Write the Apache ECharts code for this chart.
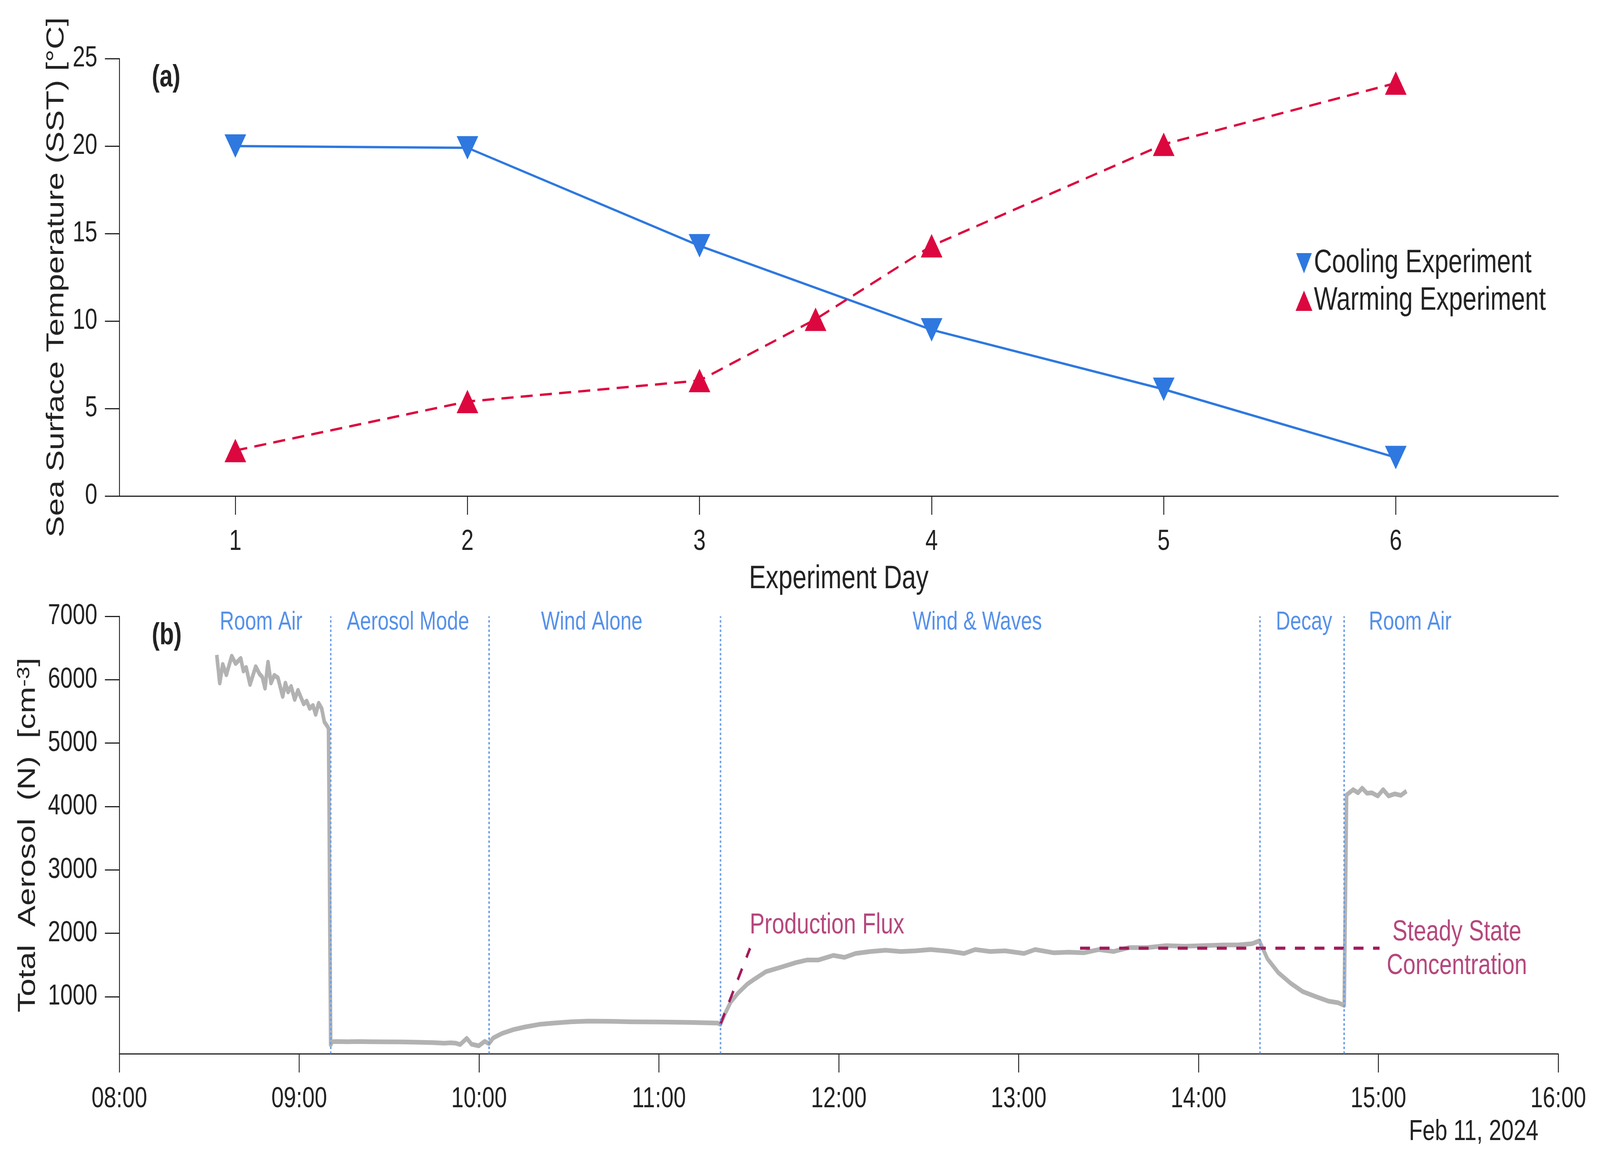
<!DOCTYPE html>
<html>
<head>
<meta charset="utf-8">
<title>SST and total aerosol</title>
<script src="https://cdn.jsdelivr.net/npm/echarts@6/dist/echarts.min.js"></script>
<style>
  html, body { margin: 0; padding: 0; background: #fff; overflow: hidden; }
  #main { width: 5324px; height: 2988px; transform-origin: 0 0; }
</style>
</head>
<body>
<div id="main"></div>
<script>
// (a) sea surface temperature per experiment day
var coolingDays = [1, 2, 3, 4, 5, 6];
var coolingSST = [20.0, 19.9, 14.3, 9.5, 6.1, 2.2];
var warmingDays = [1, 2, 3, 3.5, 4, 5, 6];
var warmingSST = [2.6, 5.4, 6.6, 10.1, 14.3, 20.1, 23.6];
var dayTicks = [1, 2, 3, 4, 5, 6];

// (b) total aerosol, time in minutes after 08:00
var aerosolMinutes = [
  32.5, 33.5, 34.5, 35.7, 37.5, 38.8, 40.5, 41.4, 42.3, 43.6, 45.5, 46.8, 47.7, 48.6, 49.6,
  50.6, 51.7, 52.9, 54.5, 55.4, 56.3, 57.3, 58.5, 59.6, 61.5, 62.5, 63.5, 64.6, 65.5, 66.5,
  67.5, 68.4, 69.4, 69.8, 70.5, 71.0, 72.5, 76, 80, 83.5, 88, 94, 99, 104.6, 108.4, 110.5,
  112.3, 113.7, 115.9, 117.5, 119.9, 121.9, 123.3, 124.7, 127.6, 131.5, 135.3, 140.1, 144.9,
  150.6, 156.4, 164.1, 170.8, 180.4, 190.0, 199.6, 200.5, 202.0, 203.9, 206.4, 209.5, 212.0,
  215.7, 220.8, 225.7, 229.5, 233.2, 238.2, 241.9, 245.6, 250.6, 255.6, 260.7, 265.6, 270.6,
  276.8, 281.8, 285.5, 290.5, 295.5, 301.8, 305.5, 311.8, 316.7, 321.7, 326.7, 331.7, 336.7,
  342.9, 349.2, 355.4, 361.6, 367.8, 372.8, 377.9, 380.3, 383.0, 386.6, 390.7, 394.8, 399.4,
  403.4, 406.5, 408.6, 409.4, 411.6, 413.2, 414.6, 416.2, 417.8, 419.8, 421.6, 423.4, 425.5,
  427.5, 429.4
];
var aerosolValues = [
  6391, 5947, 6242, 6077, 6372, 6254, 6336, 6136, 6195, 5924, 6207, 6089, 6042, 5865, 6277,
  5947, 6070, 6030, 5735, 5947, 5806, 5895, 5688, 5834, 5617, 5664, 5546, 5594, 5452, 5629,
  5546, 5334, 5264, 5230, 240, 290, 292, 290, 293, 290, 288, 286, 282, 276, 266, 272,
  266, 245, 342, 250, 225, 296, 259, 348, 419, 481, 522, 563, 584,
  604, 615, 612, 604, 600, 594, 584, 563, 727, 912, 1056, 1199, 1281,
  1394, 1466, 1538, 1579, 1579, 1651, 1620, 1682, 1713, 1733, 1713, 1723, 1743,
  1717, 1682, 1743, 1713, 1723, 1682, 1743, 1692, 1702, 1692, 1743, 1713, 1774,
  1774, 1805, 1795, 1805, 1815, 1815, 1836, 1880, 1597, 1380, 1213, 1079, 996,
  929, 906, 862, 4183, 4266, 4216, 4290, 4209, 4216, 4166, 4266, 4166, 4199,
  4176, 4243
];
var timeTicks = [0, 60, 120, 180, 240, 300, 360, 420, 480];
var timeTickLabels = ['08:00', '09:00', '10:00', '11:00', '12:00', '13:00', '14:00', '15:00', '16:00'];
var aerosolTicks = [1000, 2000, 3000, 4000, 5000, 6000, 7000];

// phase boundaries and phase names (minutes after 08:00)
var phaseBounds = [70.5, 123.3, 200.5, 380.5, 408.5];
var phaseNames = ['Room Air', 'Aerosol Mode', 'Wind Alone', 'Wind & Waves', 'Decay', 'Room Air'];
var phaseLabelAt = [47.3, 96.3, 157.6, 286.2, 395.2, 430.6];

// annotation lines
var fluxMinutes = [200.5, 210.4];
var fluxValues = [563, 1764];
var steadyMinutes = [320.5, 420.4];
var steadyValues = [1765, 1765];

var FONT = '"Liberation Sans", Arial, Helvetica, sans-serif';
var INK = '#222222';
var BLUE = '#2e78e0';
var RED = '#dc073e';
var MAGENTA = '#a3195b';
var PHASE_BLUE = '#2a74e2';

// the figure is laid out at 5324x2988; fit it into whatever window we get
var box = document.getElementById('main');
box.style.transform = 'scale(' + (window.innerWidth / 5324) + ',' + (window.innerHeight / 2988) + ')';

function zip(xs, ys) {
  return xs.map(function (x, i) { return [x, ys[i]]; });
}

function plain(v) { return String(v); }

function baseAxis(extra) {
  var ax = {
    type: 'value',
    axisLine: { show: true, onZero: false, lineStyle: { color: INK, width: 3 } },
    axisTick: { show: true, length: 48, lineStyle: { color: INK, width: 3 } },
    axisLabel: { fontSize: 74, color: INK, fontFamily: FONT },
    splitLine: { show: false },
    nameLocation: 'middle',
    nameTextStyle: { fontSize: 82, color: INK, fontFamily: FONT }
  };
  for (var k in extra) ax[k] = extra[k];
  return ax;
}

var chart = echarts.init(box, null, { renderer: 'canvas', width: 5324, height: 2988 });

var option = {
  backgroundColor: '#ffffff',
  animation: false,
  textStyle: { fontFamily: FONT },
  grid: [
    { left: 397, top: 150, width: 4788, height: 1120 },
    { left: 397, top: 1578, width: 4788, height: 1120 }
  ],
  legend: {
    orient: 'vertical',
    left: 4306,
    top: 624,
    itemWidth: 56,
    itemHeight: 52,
    itemGap: 6,
    textStyle: { fontSize: 83, color: INK, fontFamily: FONT, lineHeight: 90 },
    data: [
      { name: 'Cooling Experiment', icon: 'path://M0,0L10,0L5,10Z', itemStyle: { color: BLUE } },
      { name: 'Warming Experiment', icon: 'triangle', itemStyle: { color: RED } }
    ]
  },
  xAxis: [
    baseAxis({
      gridIndex: 0, min: 0.5, max: 6.7,
      axisLabel: { fontSize: 74, color: INK, fontFamily: FONT, margin: 81, customValues: dayTicks, formatter: plain },
      axisTick: { show: true, length: 48, lineStyle: { color: INK, width: 3 }, customValues: dayTicks },
      name: 'Experiment Day', nameGap: 171,
      nameTextStyle: { fontSize: 84, color: INK, fontFamily: FONT }
    }),
    baseAxis({
      gridIndex: 1, min: 0, max: 480, interval: 60,
      axisLabel: {
        fontSize: 74, color: INK, fontFamily: FONT, margin: 80,
        formatter: function (v) { return timeTickLabels[timeTicks.indexOf(v)] || ''; }
      }
    })
  ],
  yAxis: [
    baseAxis({
      gridIndex: 0, min: 0, max: 25, interval: 5,
      axisLabel: { fontSize: 74, color: INK, fontFamily: FONT, margin: 73, formatter: plain },
      name: 'Sea Surface Temperature (SST) [°C]', nameGap: 168
    }),
    baseAxis({
      gridIndex: 1, min: 100, max: 7000,
      axisLabel: { fontSize: 74, color: INK, fontFamily: FONT, margin: 73, customValues: aerosolTicks, formatter: plain },
      axisTick: { show: true, length: 48, lineStyle: { color: INK, width: 3 }, customValues: aerosolTicks },
      name: 'Total  Aerosol  (N)  [cm{sup|-3}]', nameGap: 263,
      nameTextStyle: {
        fontSize: 82, color: INK, fontFamily: FONT,
        rich: { sup: { fontSize: 58, lineHeight: 34, verticalAlign: 'top', color: INK, fontFamily: FONT } }
      }
    })
  ],
  series: [
    {
      name: 'Cooling Experiment',
      type: 'line',
      xAxisIndex: 0, yAxisIndex: 0,
      data: zip(coolingDays, coolingSST),
      symbol: 'path://M0,0L10,0L5,10Z',
      symbolSize: [72, 60],
      itemStyle: { color: BLUE },
      lineStyle: { color: BLUE, width: 6 },
      z: 3
    },
    {
      name: 'Warming Experiment',
      type: 'line',
      xAxisIndex: 0, yAxisIndex: 0,
      data: zip(warmingDays, warmingSST),
      symbol: 'triangle',
      symbolSize: [72, 60],
      itemStyle: { color: RED },
      lineStyle: { color: RED, width: 6, type: [40, 24] },
      z: 3
    },
    {
      name: 'Total Aerosol',
      type: 'line',
      xAxisIndex: 1, yAxisIndex: 1,
      data: zip(aerosolMinutes, aerosolValues),
      showSymbol: false,
      lineStyle: { color: '#b2b2b2', width: 12, join: 'round' },
      markLine: {
        silent: true,
        symbol: 'none',
        label: { show: false },
        lineStyle: { color: '#6a9de8', width: 5, type: [6, 6] },
        data: phaseBounds.map(function (t) { return { xAxis: t }; })
      },
      z: 2
    },
    {
      name: 'Production Flux',
      type: 'line',
      xAxisIndex: 1, yAxisIndex: 1,
      data: zip(fluxMinutes, fluxValues),
      showSymbol: false,
      lineStyle: { color: MAGENTA, width: 8, type: [32, 32] },
      z: 4
    },
    {
      name: 'Steady State',
      type: 'line',
      xAxisIndex: 1, yAxisIndex: 1,
      data: zip(steadyMinutes, steadyValues),
      showSymbol: false,
      lineStyle: { color: MAGENTA, width: 8, type: [33, 32] },
      z: 4
    },
    {
      name: 'labels',
      type: 'scatter',
      xAxisIndex: 1, yAxisIndex: 1,
      symbolSize: 0,
      silent: true,
      z: 5,
      data: phaseNames.map(function (n, i) {
        return {
          name: n, value: [phaseLabelAt[i], 6905],
          label: { show: true, formatter: n, position: 'inside', align: 'center', verticalAlign: 'middle',
                   fontSize: 66, color: PHASE_BLUE, fontFamily: FONT }
        };
      }).concat([
        {
          name: 'Production Flux', value: [210.3, 2123],
          label: { show: true, formatter: 'Production Flux', position: 'inside', align: 'left', verticalAlign: 'middle',
                   fontSize: 74, color: MAGENTA, fontFamily: FONT }
        },
        {
          name: 'Steady State Concentration', value: [446.2, 1747],
          label: { show: true, formatter: 'Steady State\nConcentration', position: 'inside', align: 'center',
                   verticalAlign: 'middle', lineHeight: 86, fontSize: 75, color: MAGENTA, fontFamily: FONT }
        }
      ])
    }
  ],
  graphic: [
    { type: 'text', left: 505, top: 160, style: { text: '(a)', fill: INK, font: 'bold 78px ' + FONT } },
    { type: 'text', left: 505, top: 1589, style: { text: '(b)', fill: INK, font: 'bold 78px ' + FONT } },
    { type: 'text', right: 5324 - 5119, top: 2862, style: { text: 'Feb 11, 2024', fill: INK, font: '74px ' + FONT } }
  ]
};

chart.setOption(option);
</script>
</body>
</html>
